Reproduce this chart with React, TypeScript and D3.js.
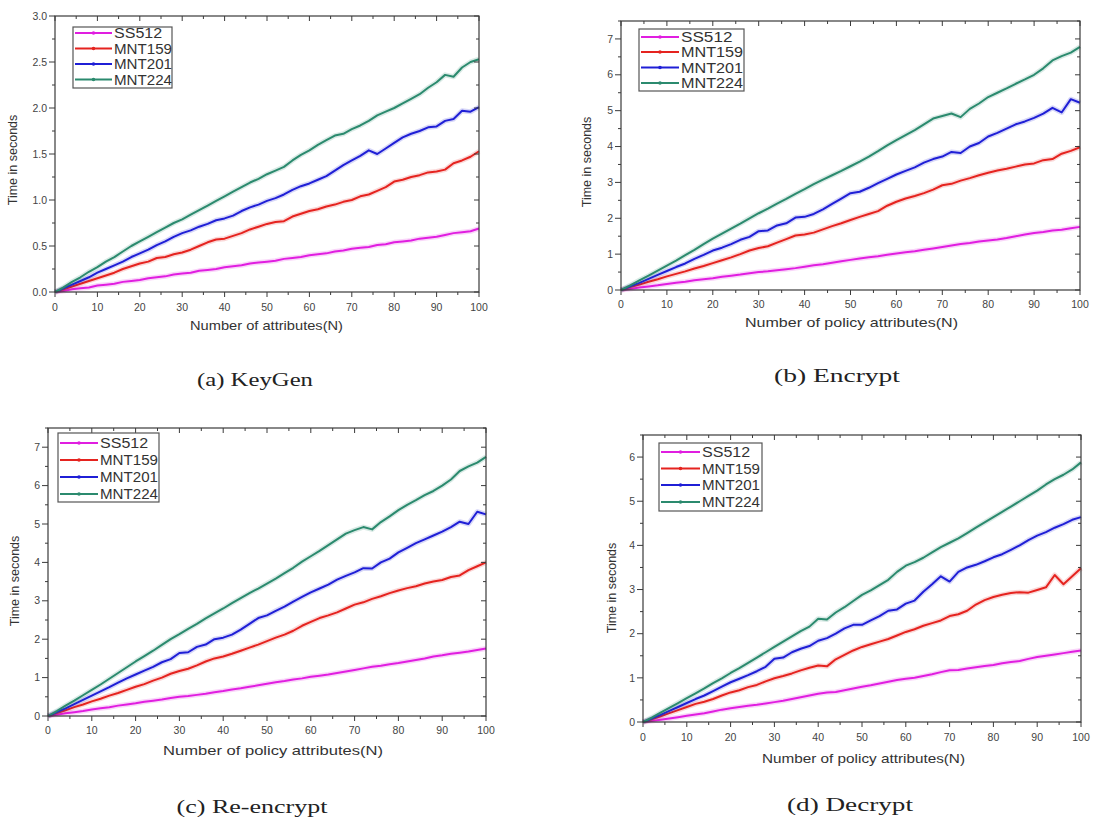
import React from "react";
import * as d3 from "d3";

// x grid: number of attributes
const ATTRS = d3.range(0, 101, 2);
const SERIES_NAMES = ["SS512", "MNT159", "MNT201", "MNT224"];
const COLORS = ["#e01ee0", "#e5231f", "#1f1fd6", "#2b8a6e"];

// (a) KeyGen
const KEYGEN_SS512 = [0, 0.01, 0.03, 0.04, 0.05, 0.07, 0.08, 0.09, 0.11, 0.12, 0.13, 0.15, 0.16, 0.17, 0.19, 0.2, 0.21, 0.23, 0.24, 0.25, 0.27, 0.28, 0.29, 0.31, 0.32, 0.33, 0.34, 0.36, 0.37, 0.38, 0.4, 0.41, 0.42, 0.44, 0.45, 0.47, 0.48, 0.49, 0.51, 0.52, 0.54, 0.55, 0.56, 0.58, 0.59, 0.6, 0.62, 0.64, 0.65, 0.66, 0.69];
const KEYGEN_MNT159 = [0, 0.03, 0.06, 0.09, 0.12, 0.15, 0.18, 0.21, 0.25, 0.28, 0.31, 0.33, 0.37, 0.38, 0.41, 0.43, 0.46, 0.5, 0.54, 0.57, 0.58, 0.61, 0.64, 0.68, 0.71, 0.74, 0.76, 0.77, 0.82, 0.85, 0.88, 0.9, 0.93, 0.95, 0.98, 1.0, 1.04, 1.06, 1.1, 1.14, 1.2, 1.22, 1.25, 1.27, 1.3, 1.31, 1.33, 1.4, 1.43, 1.47, 1.53];
const KEYGEN_MNT201 = [0, 0.04, 0.08, 0.12, 0.16, 0.21, 0.25, 0.29, 0.33, 0.38, 0.42, 0.46, 0.51, 0.55, 0.6, 0.64, 0.67, 0.71, 0.74, 0.78, 0.8, 0.83, 0.88, 0.92, 0.95, 0.99, 1.02, 1.06, 1.11, 1.15, 1.18, 1.22, 1.26, 1.32, 1.38, 1.43, 1.48, 1.54, 1.5, 1.56, 1.62, 1.68, 1.72, 1.75, 1.79, 1.8, 1.86, 1.88, 1.97, 1.96, 2.01];
const KEYGEN_MNT224 = [0, 0.05, 0.11, 0.16, 0.22, 0.27, 0.33, 0.38, 0.44, 0.5, 0.55, 0.6, 0.65, 0.7, 0.75, 0.79, 0.84, 0.89, 0.94, 0.99, 1.04, 1.09, 1.14, 1.19, 1.23, 1.28, 1.32, 1.36, 1.43, 1.49, 1.54, 1.6, 1.65, 1.7, 1.72, 1.77, 1.81, 1.86, 1.92, 1.96, 2.0, 2.05, 2.1, 2.15, 2.22, 2.28, 2.36, 2.34, 2.44, 2.5, 2.53];

// (b) Encrypt
const ENCRYPT_SS512 = [0, 0.03, 0.07, 0.1, 0.13, 0.17, 0.2, 0.23, 0.27, 0.3, 0.33, 0.37, 0.4, 0.43, 0.47, 0.5, 0.52, 0.55, 0.58, 0.61, 0.65, 0.69, 0.72, 0.76, 0.8, 0.84, 0.88, 0.91, 0.94, 0.98, 1.02, 1.05, 1.08, 1.12, 1.16, 1.2, 1.24, 1.28, 1.31, 1.35, 1.38, 1.41, 1.45, 1.5, 1.55, 1.59, 1.62, 1.66, 1.68, 1.72, 1.76];
const ENCRYPT_MNT159 = [0, 0.08, 0.15, 0.23, 0.3, 0.38, 0.45, 0.52, 0.6, 0.67, 0.75, 0.83, 0.91, 1.0, 1.1, 1.17, 1.22, 1.32, 1.42, 1.52, 1.55, 1.6, 1.69, 1.78, 1.86, 1.95, 2.04, 2.12, 2.2, 2.35, 2.46, 2.55, 2.62, 2.7, 2.8, 2.92, 2.96, 3.05, 3.12, 3.2, 3.27, 3.33, 3.38, 3.44, 3.5, 3.53, 3.62, 3.65, 3.8, 3.88, 3.98];
const ENCRYPT_MNT201 = [0, 0.1, 0.2, 0.31, 0.42, 0.53, 0.64, 0.74, 0.87, 0.98, 1.1, 1.18, 1.28, 1.4, 1.48, 1.64, 1.66, 1.8, 1.86, 2.02, 2.04, 2.12, 2.25, 2.4, 2.55, 2.7, 2.74, 2.85, 2.98, 3.1, 3.22, 3.32, 3.42, 3.55, 3.65, 3.72, 3.85, 3.82, 4.0, 4.1, 4.28, 4.38, 4.5, 4.62, 4.7, 4.8, 4.92, 5.08, 4.95, 5.32, 5.22];
const ENCRYPT_MNT224 = [0, 0.13, 0.27, 0.4, 0.54, 0.68, 0.82, 0.97, 1.12, 1.28, 1.43, 1.57, 1.71, 1.85, 2.0, 2.14, 2.27, 2.41, 2.54, 2.68, 2.81, 2.95, 3.08, 3.2, 3.32, 3.45, 3.58, 3.72, 3.87, 4.03, 4.18, 4.32, 4.46, 4.62, 4.78, 4.85, 4.92, 4.82, 5.05, 5.2, 5.38, 5.5, 5.62, 5.75, 5.87, 6.0, 6.18, 6.4, 6.52, 6.62, 6.78];

// (c) Re-encrypt
const REENCRYPT_SS512 = [0, 0.03, 0.07, 0.1, 0.13, 0.17, 0.2, 0.23, 0.27, 0.3, 0.33, 0.37, 0.4, 0.43, 0.47, 0.5, 0.52, 0.55, 0.58, 0.62, 0.65, 0.69, 0.72, 0.76, 0.8, 0.84, 0.88, 0.91, 0.95, 0.98, 1.02, 1.05, 1.08, 1.12, 1.16, 1.2, 1.24, 1.28, 1.31, 1.35, 1.38, 1.42, 1.46, 1.5, 1.55, 1.58, 1.62, 1.65, 1.68, 1.72, 1.76];
const REENCRYPT_MNT159 = [0, 0.08, 0.15, 0.23, 0.3, 0.38, 0.45, 0.53, 0.6, 0.68, 0.76, 0.83, 0.92, 1.0, 1.1, 1.17, 1.23, 1.32, 1.42, 1.5, 1.55, 1.62, 1.7, 1.78, 1.86, 1.95, 2.04, 2.12, 2.22, 2.35, 2.45, 2.55, 2.62, 2.7, 2.8, 2.9, 2.96, 3.05, 3.12, 3.2, 3.27, 3.33, 3.38, 3.45, 3.5, 3.54, 3.62, 3.66, 3.8, 3.9, 4.0];
const REENCRYPT_MNT201 = [0, 0.1, 0.2, 0.31, 0.42, 0.53, 0.64, 0.75, 0.87, 0.98, 1.08, 1.18, 1.28, 1.4, 1.48, 1.64, 1.66, 1.8, 1.86, 2.0, 2.04, 2.12, 2.25, 2.4, 2.55, 2.62, 2.74, 2.85, 2.98, 3.1, 3.22, 3.32, 3.42, 3.55, 3.65, 3.74, 3.85, 3.84, 4.0, 4.1, 4.26, 4.38, 4.5, 4.6, 4.7, 4.8, 4.92, 5.06, 5.0, 5.32, 5.25];
const REENCRYPT_MNT224 = [0, 0.13, 0.27, 0.4, 0.54, 0.68, 0.82, 0.97, 1.12, 1.27, 1.42, 1.56, 1.7, 1.85, 2.0, 2.13, 2.27, 2.4, 2.54, 2.67, 2.8, 2.94, 3.07, 3.2, 3.32, 3.45, 3.58, 3.72, 3.86, 4.02, 4.16, 4.3, 4.45, 4.6, 4.75, 4.84, 4.92, 4.86, 5.05, 5.2, 5.36, 5.5, 5.62, 5.75, 5.86, 6.0, 6.16, 6.38, 6.5, 6.6, 6.75];

// (d) Decrypt
const DECRYPT_SS512 = [0, 0.02, 0.05, 0.08, 0.11, 0.14, 0.17, 0.2, 0.24, 0.28, 0.31, 0.34, 0.37, 0.39, 0.42, 0.45, 0.48, 0.52, 0.56, 0.6, 0.64, 0.67, 0.68, 0.72, 0.76, 0.8, 0.83, 0.87, 0.91, 0.95, 0.98, 1.0, 1.04, 1.08, 1.13, 1.17, 1.18, 1.21, 1.24, 1.27, 1.29, 1.33, 1.36, 1.38, 1.43, 1.47, 1.5, 1.53, 1.56, 1.59, 1.62];
const DECRYPT_MNT159 = [0, 0.06, 0.13, 0.2, 0.27, 0.34, 0.41, 0.46, 0.52, 0.6, 0.67, 0.72, 0.79, 0.84, 0.92, 0.99, 1.04, 1.1, 1.17, 1.23, 1.28, 1.26, 1.42, 1.52, 1.62, 1.7, 1.76, 1.82, 1.88, 1.96, 2.04, 2.1, 2.18, 2.24, 2.3, 2.4, 2.44, 2.52, 2.66, 2.76, 2.83, 2.88, 2.92, 2.94, 2.93, 2.99, 3.05, 3.33, 3.12, 3.3, 3.48];
const DECRYPT_MNT201 = [0, 0.08, 0.16, 0.25, 0.34, 0.43, 0.52, 0.6, 0.7, 0.8, 0.9, 0.98, 1.06, 1.15, 1.25, 1.43, 1.46, 1.58, 1.66, 1.72, 1.84, 1.9, 2.0, 2.12, 2.2, 2.2, 2.3, 2.4, 2.52, 2.55, 2.68, 2.75, 2.95, 3.12, 3.3, 3.18, 3.4, 3.5, 3.56, 3.64, 3.73, 3.8, 3.9, 4.0, 4.12, 4.22, 4.3, 4.4, 4.48, 4.58, 4.64];
const DECRYPT_MNT224 = [0, 0.1, 0.21, 0.32, 0.43, 0.54, 0.65, 0.76, 0.88, 0.99, 1.11, 1.22, 1.34, 1.46, 1.58, 1.7, 1.82, 1.94, 2.06, 2.16, 2.34, 2.32, 2.48, 2.6, 2.74, 2.88, 2.98, 3.1, 3.22, 3.4, 3.54, 3.62, 3.72, 3.84, 3.96, 4.06, 4.16, 4.28, 4.4, 4.52, 4.64, 4.76, 4.88, 5.0, 5.12, 5.24, 5.38, 5.5, 5.6, 5.72, 5.88];

const KEYGEN_YTICKS = [0, 0.5, 1, 1.5, 2, 2.5, 3];
const ENCRYPT_YTICKS = [0, 1, 2, 3, 4, 5, 6, 7];
const DECRYPT_YTICKS = [0, 1, 2, 3, 4, 5, 6];
const XTICKS = [0, 10, 20, 30, 40, 50, 60, 70, 80, 90, 100];

const PANELS = [
  {
    caption: "(a) KeyGen", xTitle: "Number of attributes(N)",
    series: [KEYGEN_SS512, KEYGEN_MNT159, KEYGEN_MNT201, KEYGEN_MNT224],
    yMax: 3, yTicks: KEYGEN_YTICKS, yMinor: 0.25, yFmt: (d) => d.toFixed(1),
    l: 55, r: 479, t: 16, b: 292,
    leg: { x: 73, y: 27, w: 99, h: 61, rows: [33, 48.5, 64, 79.5], l0: 75, l1: 112, tx: 114, tl: 58 },
    xt: { x: 266.5, y: 330, len: 153 }, yt: { x: 13, y: 160 },
    cap: { x: 255, y: 386, len: 116 }, xlabY: 311,
  },
  {
    caption: "(b) Encrypt", xTitle: "Number of policy attributes(N)",
    series: [ENCRYPT_SS512, ENCRYPT_MNT159, ENCRYPT_MNT201, ENCRYPT_MNT224],
    yMax: 7.5, yTicks: ENCRYPT_YTICKS, yMinor: 0.5, yFmt: (d) => String(d),
    l: 621, r: 1080, t: 21, b: 290,
    leg: { x: 639, y: 29, w: 105, h: 62, rows: [37, 52, 67.5, 83], l0: 641, l1: 679, tx: 681, tl: 62 },
    xt: { x: 851.5, y: 327, len: 213 }, yt: { x: 587, y: 162 },
    cap: { x: 837, y: 382, len: 126 }, xlabY: 308,
  },
  {
    caption: "(c) Re-encrypt", xTitle: "Number of policy attributes(N)",
    series: [REENCRYPT_SS512, REENCRYPT_MNT159, REENCRYPT_MNT201, REENCRYPT_MNT224],
    yMax: 7.5, yTicks: ENCRYPT_YTICKS, yMinor: 0.5, yFmt: (d) => String(d),
    l: 48, r: 486, t: 428, b: 716,
    leg: { x: 58, y: 433, w: 101, h: 69, rows: [443, 460, 477, 494], l0: 60, l1: 98, tx: 100, tl: 58 },
    xt: { x: 273, y: 755, len: 220 }, yt: { x: 15, y: 581 },
    cap: { x: 252, y: 813, len: 151 }, xlabY: 734,
  },
  {
    caption: "(d) Decrypt", xTitle: "Number of policy attributes(N)",
    series: [DECRYPT_SS512, DECRYPT_MNT159, DECRYPT_MNT201, DECRYPT_MNT224],
    yMax: 6.5, yTicks: DECRYPT_YTICKS, yMinor: 0.5, yFmt: (d) => String(d),
    l: 643, r: 1081, t: 435, b: 722,
    leg: { x: 659, y: 443, w: 103, h: 68, rows: [452, 468.5, 485, 502], l0: 661, l1: 700, tx: 702, tl: 58 },
    xt: { x: 863.5, y: 763, len: 203 }, yt: { x: 612, y: 588 },
    cap: { x: 850, y: 811, len: 126 }, xlabY: 741,
  },
];

const SANS = "Arial, 'Liberation Sans', Helvetica, sans-serif";
const SERIF = "'Liberation Serif', 'DejaVu Serif', serif";
const AXIS = "#3a3a3a";

function Panel({ p }) {
  const x = d3.scaleLinear().domain([0, 100]).range([p.l, p.r]);
  const y = d3.scaleLinear().domain([0, p.yMax]).range([p.b, p.t]);
  const line = d3.line().x((d) => x(d[0])).y((d) => y(d[1]));
  const xMinor = d3.range(0, 101, 5).filter((v) => v % 10 !== 0);
  const yMinor = d3.range(0, p.yMax + 1e-9, p.yMinor).filter((v) => !p.yTicks.some((t) => Math.abs(t - v) < 1e-9));

  return (
    <g>
      {/* series lines */}
      {p.series.map((vals, i) => {
        const pts = ATTRS.map((a, k) => [a, vals[k]]);
        return (
          <g key={i}>
            <path d={line(pts)} fill="none" stroke={COLORS[i]} strokeOpacity={0.18} strokeWidth={5} strokeLinejoin="round" />
            <path d={line(pts)} fill="none" stroke={COLORS[i]} strokeWidth={2} strokeLinejoin="round" />
          </g>
        );
      })}
      {/* frame */}
      <rect x={p.l} y={p.t} width={p.r - p.l} height={p.b - p.t} fill="none" stroke={AXIS} strokeWidth={1.2} />
      {/* x ticks */}
      {XTICKS.map((v) => (
        <g key={"x" + v}>
          <line x1={x(v)} x2={x(v)} y1={p.b} y2={p.b + 5} stroke={AXIS} />
          <line x1={x(v)} x2={x(v)} y1={p.t} y2={p.t + 5} stroke={AXIS} />
          <text x={x(v)} y={p.xlabY} textAnchor="middle" fontFamily={SANS} fontSize={10.5} fill="#444">{v}</text>
        </g>
      ))}
      {xMinor.map((v) => (
        <g key={"xm" + v}>
          <line x1={x(v)} x2={x(v)} y1={p.b} y2={p.b + 3} stroke={AXIS} />
          <line x1={x(v)} x2={x(v)} y1={p.t} y2={p.t + 3} stroke={AXIS} />
        </g>
      ))}
      {/* y ticks */}
      {p.yTicks.map((v) => (
        <g key={"y" + v}>
          <line x1={p.l - 6} x2={p.l} y1={y(v)} y2={y(v)} stroke={AXIS} />
          <line x1={p.r - 5} x2={p.r} y1={y(v)} y2={y(v)} stroke={AXIS} />
          <text x={p.l - 8} y={y(v)} dy="0.35em" textAnchor="end" fontFamily={SANS} fontSize={10.5} fill="#444">{p.yFmt(v)}</text>
        </g>
      ))}
      {yMinor.map((v) => (
        <g key={"ym" + v}>
          <line x1={p.l - 3} x2={p.l} y1={y(v)} y2={y(v)} stroke={AXIS} />
          <line x1={p.r - 3} x2={p.r} y1={y(v)} y2={y(v)} stroke={AXIS} />
        </g>
      ))}
      {/* axis titles */}
      <text x={p.xt.x} y={p.xt.y} textAnchor="middle" fontFamily={SANS} fontSize={13} fill="#333"
        textLength={p.xt.len} lengthAdjust="spacingAndGlyphs">{p.xTitle}</text>
      <text transform={`translate(${p.yt.x},${p.yt.y}) rotate(-90)`} textAnchor="middle" dy="0.35em"
        fontFamily={SANS} fontSize={12.5} fill="#333">Time in seconds</text>
      {/* legend */}
      <rect x={p.leg.x} y={p.leg.y} width={p.leg.w} height={p.leg.h} fill="#fff" stroke="#555" strokeWidth={1.2} />
      {SERIES_NAMES.map((name, i) => (
        <g key={name}>
          <line x1={p.leg.l0} x2={p.leg.l1} y1={p.leg.rows[i]} y2={p.leg.rows[i]} stroke={COLORS[i]} strokeWidth={2} />
          <circle cx={(p.leg.l0 + p.leg.l1) / 2} cy={p.leg.rows[i]} r={1.8} fill={COLORS[i]} />
          <text x={p.leg.tx} y={p.leg.rows[i]} dy="0.36em" fontFamily={SANS} fontSize={14} fill="#333"
            textLength={name.length === 5 ? p.leg.tl * 0.83 : p.leg.tl} lengthAdjust="spacingAndGlyphs">{name}</text>
        </g>
      ))}
      {/* caption */}
      <text x={p.cap.x} y={p.cap.y} textAnchor="middle" fontFamily={SERIF} fontSize={18} fill="#222"
        textLength={p.cap.len} lengthAdjust="spacingAndGlyphs">{p.caption}</text>
    </g>
  );
}

export default function App() {
  return (
    <svg width={1093} height={825} style={{ position: "absolute", left: 0, top: 0, background: "#fff" }}>
      <rect x={0} y={0} width={1093} height={825} fill="#fff" />
      {PANELS.map((p, i) => (
        <Panel key={i} p={p} />
      ))}
    </svg>
  );
}
